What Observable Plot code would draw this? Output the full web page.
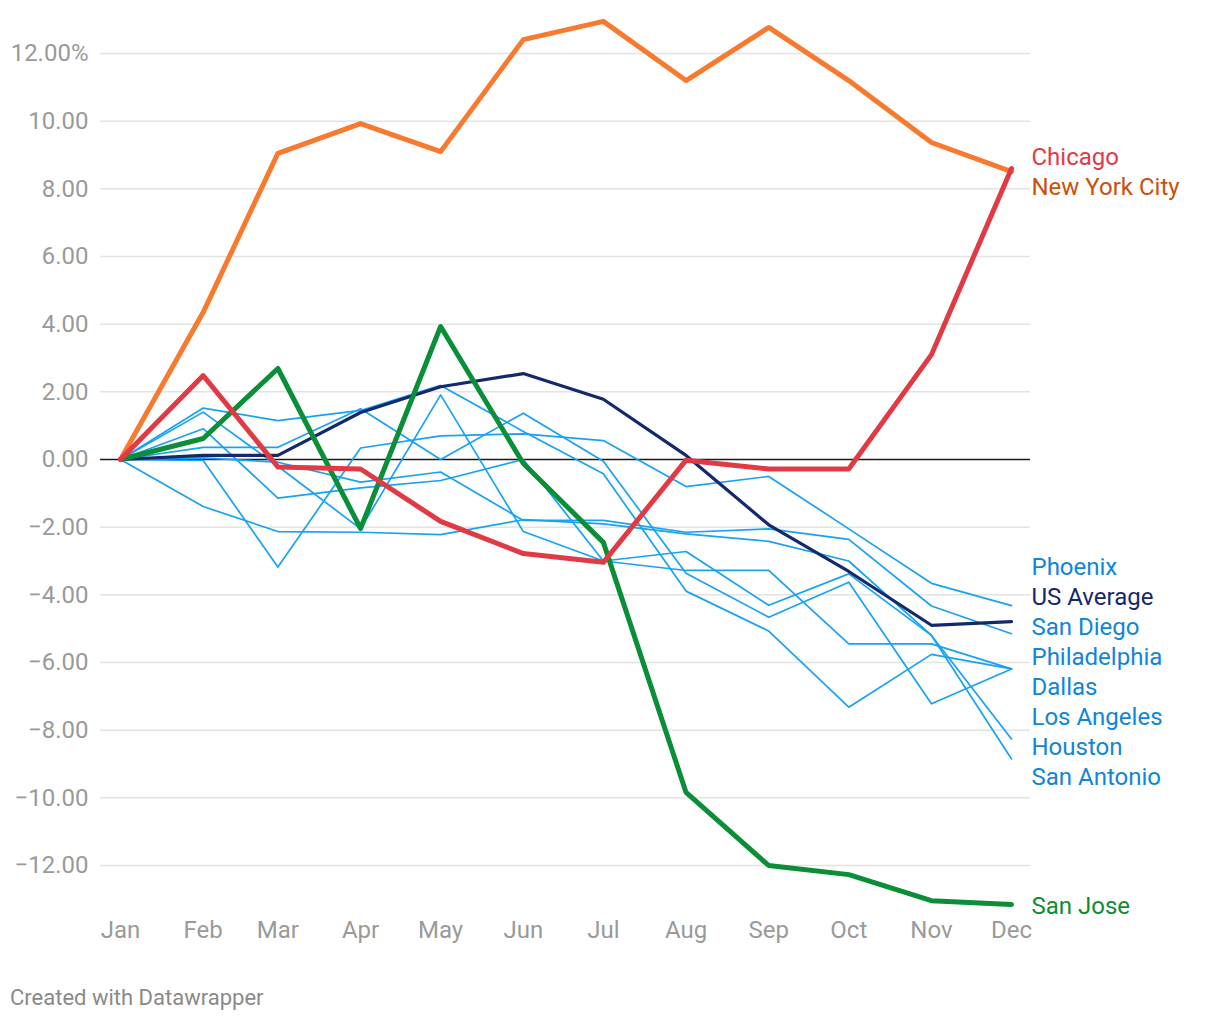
<!DOCTYPE html>
<html>
<head>
<meta charset="utf-8">
<script src="https://cdn.jsdelivr.net/npm/d3@7"></script>
<script src="https://cdn.jsdelivr.net/npm/@observablehq/plot@0.6"></script>
<style>
  body { margin: 0; background: #fff; font-family: Roboto, "Noto Sans", sans-serif; }
  #chart svg { display: block; }
  .caption { font-family: Roboto, sans-serif; font-size: 22px; color: #8a8a8a; margin: 25px 0 0 10px; }
</style>
</head>
<body>
<div id="chart"></div>
<div class="caption">Created with Datawrapper</div>
<script>
// ---- data ----
const months = ["Jan","Feb","Mar","Apr","May","Jun","Jul","Aug","Sep","Oct","Nov","Dec"];
const year = 2021;
const yTicks = [-12,-10,-8,-6,-4,-2,0,2,4,6,8,10,12];

const phoenix      = [0, -0.03, -3.18, 0.34, 0.70, 0.76, 0.56, -0.80, -0.50, -2.05, -3.66, -4.32];
const usAverage    = [0, 0.12, 0.12, 1.39, 2.15, 2.54, 1.78, 0.12, -1.93, -3.31, -4.90, -4.79];
const sanDiego     = [0, 0.05, -0.08, -0.67, -0.37, -1.80, -1.80, -2.15, -2.05, -2.36, -4.33, -5.15];
const philadelphia = [0, 1.52, 1.15, 1.45, 2.19, 0.83, -0.42, -3.89, -5.07, -7.32, -5.76, -6.19];
const dallas       = [0, 0.36, 0.36, 1.50, 0.00, 1.37, -0.05, -3.36, -4.66, -3.63, -7.22, -6.19];
const losAngeles   = [0, 0.91, -1.14, -0.84, -0.62, 0.00, -3.00, -3.28, -3.28, -5.45, -5.45, -6.19];
const houston      = [0, -1.39, -2.13, -2.15, -2.22, -1.78, -1.90, -2.20, -2.42, -3.00, -5.20, -8.26];
const sanAntonio   = [0, 1.40, -0.20, -2.05, 1.91, -2.13, -3.00, -2.72, -4.31, -3.38, -5.20, -8.85];
const newYorkCity  = [0, 4.35, 9.05, 9.93, 9.10, 12.41, 12.95, 11.20, 12.77, 11.20, 9.37, 8.51];
const chicago      = [0, 2.48, -0.22, -0.28, -1.83, -2.78, -3.04, -0.02, -0.28, -0.28, 3.10, 8.60];
const sanJose      = [0, 0.62, 2.69, -2.04, 3.93, -0.12, -2.45, -9.84, -12.00, -12.27, -13.04, -13.15];

const seriesNames  = ["Phoenix","US Average","San Diego","Philadelphia","Dallas","Los Angeles","Houston","San Antonio","New York City","San Jose","Chicago"];
const seriesValues = [phoenix, usAverage, sanDiego, philadelphia, dallas, losAngeles, houston, sanAntonio, newYorkCity, sanJose, chicago];

// ---- styles ----
const lineColor = {
  "US Average": "#15286b", "New York City": "#f77a2f", "Chicago": "#e23a45", "San Jose": "#0a8e37"
};
const labelColor = {
  "US Average": "#15286b", "New York City": "#cc4f0c", "Chicago": "#e23a45", "San Jose": "#0a8e37"
};
const lightLine = "#17a2f3", lightLabel = "#0f86d8";
const widthOf = name => name === "US Average" ? 3.2 : (lineColor[name] ? 5 : 1.7);

const dates = months.map((m, j) => new Date(Date.UTC(year, j, 1)));
const rows = [];
seriesNames.forEach((name, i) => seriesValues[i].forEach((v, j) => rows.push({series: name, date: dates[j], value: v})));

const W = 1220, H = 960;
const yDomain = [-12, 12], yRange = [865, 53];
const xRange = [120, 1011];
const ys = d3.scaleLinear(yDomain, yRange);

// end labels with simple collision avoidance (in pixels)
const GAP = 30;
let labels = seriesNames.map((name, i) => ({name, target: ys(seriesValues[i][11])}))
  .sort((a, b) => a.target - b.target);
let clusters = labels.map(l => ({items: [l], center: l.target}));
let merged = true;
while (merged) {
  merged = false;
  for (let k = 0; k < clusters.length - 1; k++) {
    const a = clusters[k], b = clusters[k + 1];
    const aBottom = a.center + (a.items.length - 1) / 2 * GAP;
    const bTop = b.center - (b.items.length - 1) / 2 * GAP;
    if (bTop - aBottom < GAP) {
      const items = a.items.concat(b.items);
      clusters.splice(k, 2, {items, center: d3.mean(items, d => d.target)});
      merged = true;
      break;
    }
  }
}
clusters.forEach(c => c.items.forEach((it, i) => { it.pos = c.center + (i - (c.items.length - 1) / 2) * GAP; }));
const labelRows = labels.map(l => ({name: l.name, date: dates[11], value: ys.invert(l.pos)}));

const order = ["Phoenix","San Diego","Philadelphia","Dallas","Los Angeles","Houston","San Antonio","US Average","New York City","San Jose","Chicago"];

const marks = [
  Plot.ruleY(yTicks.filter(d => d !== 0), {stroke: "#e3e3e3", strokeWidth: 1.5}),
  Plot.axisY(yTicks, {tickSize: 0, tickPadding: 12, fontSize: 24, fill: "#9a9a9a", label: null,
    tickFormat: d => d === 12 ? "12.00%" : d3.format(".2f")(d)}),
  Plot.axisX(dates, {anchor: "bottom", tickSize: 0, tickPadding: 10, fontSize: 24, fill: "#9a9a9a", label: null,
    tickFormat: d => months[d.getUTCMonth()]}),
  Plot.ruleY([0], {stroke: "#1a1a1a", strokeWidth: 1.6})
];
for (const name of order) {
  marks.push(Plot.line(rows.filter(r => r.series === name), {
    x: "date", y: "value",
    stroke: lineColor[name] || lightLine,
    strokeWidth: widthOf(name),
    strokeLinejoin: "round", strokeLinecap: "round"
  }));
}
marks.push(Plot.text(labelRows, {
  x: "date", y: "value", text: "name", dx: 20, dy: 2, textAnchor: "start",
  fontSize: 24, fill: d => labelColor[d.name] || lightLabel
}));

const chart = Plot.plot({
  width: W, height: H,
  marginLeft: 100, marginRight: 190, marginTop: 10, marginBottom: 50,
  style: {fontFamily: "Roboto, sans-serif", background: "#fff", overflow: "visible"},
  x: {type: "utc", domain: [dates[0], dates[11]], range: xRange, label: null},
  y: {domain: yDomain, range: yRange, label: null},
  marks
});
document.getElementById("chart").appendChild(chart);
</script>
</body>
</html>
